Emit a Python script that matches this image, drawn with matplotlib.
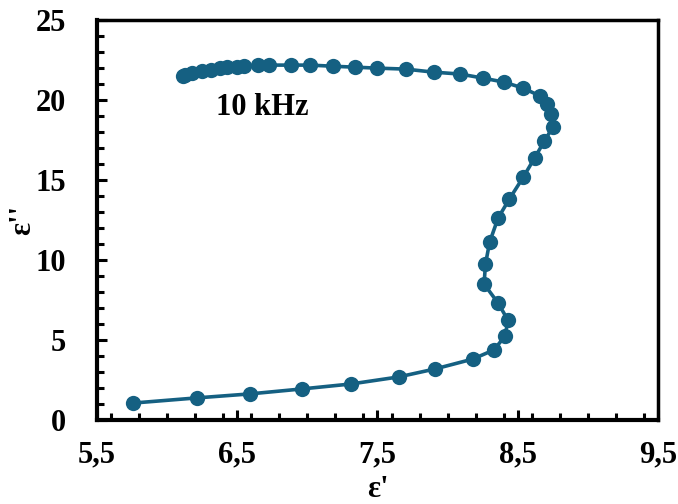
import matplotlib
matplotlib.use("Agg")
import matplotlib.pyplot as plt
from matplotlib.ticker import FixedLocator, MultipleLocator

# Cole-Cole plot, eps' vs eps''
eps_real = [5.76, 6.21, 6.59, 6.96, 7.31, 7.65, 7.91, 8.18, 8.33, 8.41,
            8.43, 8.36, 8.26, 8.27, 8.30, 8.36, 8.44, 8.54, 8.62, 8.69,
            8.75, 8.74, 8.71, 8.66, 8.54, 8.40, 8.25, 8.09, 7.90, 7.70,
            7.50, 7.34, 7.18, 7.02, 6.88, 6.73, 6.65, 6.55, 6.50, 6.43,
            6.38, 6.31, 6.25, 6.18, 6.13, 6.11]
eps_imag = [1.06, 1.38, 1.63, 1.94, 2.25, 2.69, 3.19, 3.81, 4.38, 5.25,
            6.25, 7.31, 8.50, 9.75, 11.13, 12.63, 13.81, 15.19, 16.38, 17.44,
            18.31, 19.13, 19.75, 20.25, 20.75, 21.13, 21.38, 21.63, 21.75, 21.94,
            22.00, 22.06, 22.12, 22.19, 22.19, 22.19, 22.17, 22.12, 22.09, 22.06,
            22.00, 21.88, 21.81, 21.69, 21.56, 21.50]

xticks = [5.5, 6.5, 7.5, 8.5, 9.5]
xticklabels = ["5,5", "6,5", "7,5", "8,5", "9,5"]
yticks = [0, 5, 10, 15, 20, 25]

plt.rcParams['font.family'] = ['Liberation Serif', 'DejaVu Serif']
plt.rcParams['font.weight'] = 'bold'

fig = plt.figure(figsize=(6.78, 5.04), dpi=100)
ax = fig.add_axes([0.143, 0.1667, 0.8275, 0.7933])

ax.plot(eps_real, eps_imag, '-o', color='#156082', lw=2.6,
        markersize=11, markeredgewidth=0)

ax.set_xlim(5.5, 9.5)
ax.set_ylim(0, 25)
ax.xaxis.set_major_locator(FixedLocator(xticks))
ax.set_xticklabels(xticklabels)
ax.xaxis.set_minor_locator(MultipleLocator(0.2))
ax.set_yticks(yticks)
ax.yaxis.set_minor_locator(MultipleLocator(1))

ax.tick_params(which='both', direction='in', width=2.2, labelsize=22,
               top=False, right=False)
ax.tick_params(axis='y', which='major', length=7, pad=22)
ax.tick_params(axis='y', which='minor', length=5)
ax.tick_params(axis='x', which='major', length=7, pad=15)
ax.tick_params(axis='x', which='minor', length=5)
for lbl in ax.get_xticklabels() + ax.get_yticklabels():
    lbl.set_fontweight('bold')

for side in ['left', 'bottom']:
    ax.spines[side].set_linewidth(3)
for side in ['top', 'right']:
    ax.spines[side].set_linewidth(2.5)

ax.set_xlabel("ε'", fontsize=22, fontweight='bold')
ax.set_ylabel("ε''", fontsize=22, fontweight='bold')
ax.xaxis.set_label_coords(0.5, -0.138)
ax.yaxis.set_label_coords(-0.106, 0.5)

ax.text(6.68, 19.55, "10 kHz", fontsize=22, fontweight='bold',
        ha='center', va='center')

fig.savefig("out.png", dpi=100)
